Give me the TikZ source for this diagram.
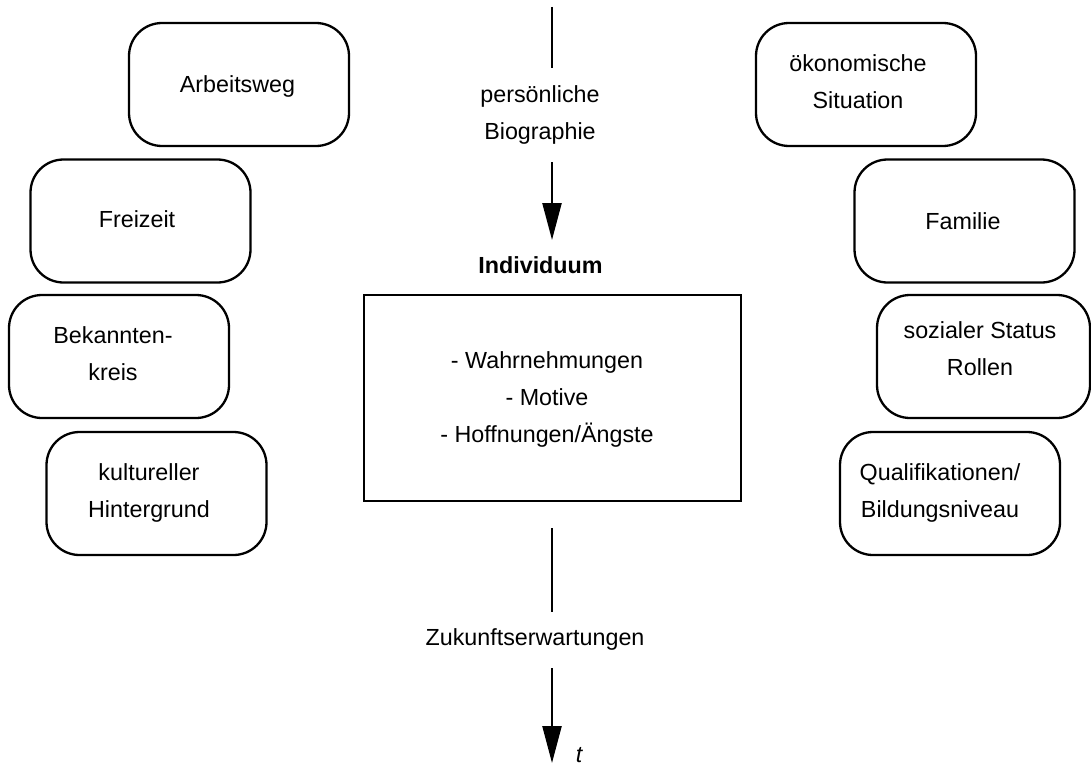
\documentclass[tikz,border=0pt]{standalone}
\usepackage{fontspec}
\setmainfont{Liberation Sans}
\usetikzlibrary{arrows.meta}

\tikzset{
  lw/.style={line width=2.3pt},
  factor/.style={lw, draw, rounded corners=33pt, minimum width=220pt, minimum height=123pt,
    inner sep=0pt},
  txt/.style={align=center, inner sep=0pt,
    font=\fontsize{23.3}{37}\selectfont,
    execute at begin node=\strut, execute at end node=\strut},
  core/.style={lw, draw, minimum width=377pt, minimum height=206pt, inner sep=0pt},
  flow/.style={lw},
  flowarrow/.style={lw, -{Triangle[length=37pt,width=19pt]}},
}

\begin{document}
\begin{tikzpicture}[x=1pt,y=-1pt]
\useasboundingbox (0,0) rectangle (1091,768);

% influences on the left
\node[factor] (weg)   at (239,84.5)   {};
\node[factor] (frei)  at (140.5,221)  {};
\node[factor] (bek)   at (119,356.5)  {};
\node[factor] (kult)  at (156.5,493.5){};
\node[txt] at (237.5,84.6) {Arbeitsweg};
\node[txt] at (137,219.6) {Freizeit};
\node[txt] at (113,359) {Bekannten-\\kreis};
\node[txt] at (149,495.8) {kultureller\\Hintergrund};

% influences on the right
\node[factor] (oek)   at (866,84.5)   {};
\node[factor] (fam)   at (964.5,221)  {};
\node[factor, minimum width=213pt] (soz) at (983.5,356.5) {};
\node[factor] (qual)  at (950,493.5)  {};
\node[txt] at (858,87.6) {ökonomische\\Situation};
\node[txt] at (963,221.7) {Familie};
\node[txt] at (980,354) {sozialer Status\\Rollen};
\node[txt] at (940,496) {Qualifikationen/\\Bildungsniveau};

% the individual in the middle
\node[txt] (bio) at (540,118) {persönliche\\Biographie};
\node[txt, font=\fontsize{23.3}{37}\selectfont\bfseries] (ind) at (540.5,265.6) {Individuum};
\node[core] (box) at (552.5,398) {};
\node[txt] at (547,402.6) {- Wahrnehmungen\\- Motive\\- Hoffnungen/Ängste};
\node[txt] (zuk) at (535,637.6) {Zukunftserwartungen};
\node[inner sep=0pt, font=\fontsize{23.3}{37}\selectfont\itshape, anchor=base] (t) at (579,762) {t};

% time axis
\coordinate (a0) at (552,7);
\coordinate (a1) at (552,68);
\coordinate (a2) at (552,162);
\coordinate (a3) at (552,240);
\coordinate (a4) at (552,528);
\coordinate (a5) at (552,612);
\coordinate (a6) at (552,668);
\coordinate (a7) at (552,763);
\draw[flow] (a0) -- (a1);
\draw[flowarrow] (a2) -- (a3);
\draw[flow] (a4) -- (a5);
\draw[flowarrow] (a6) -- (a7);
\end{tikzpicture}
\end{document}
